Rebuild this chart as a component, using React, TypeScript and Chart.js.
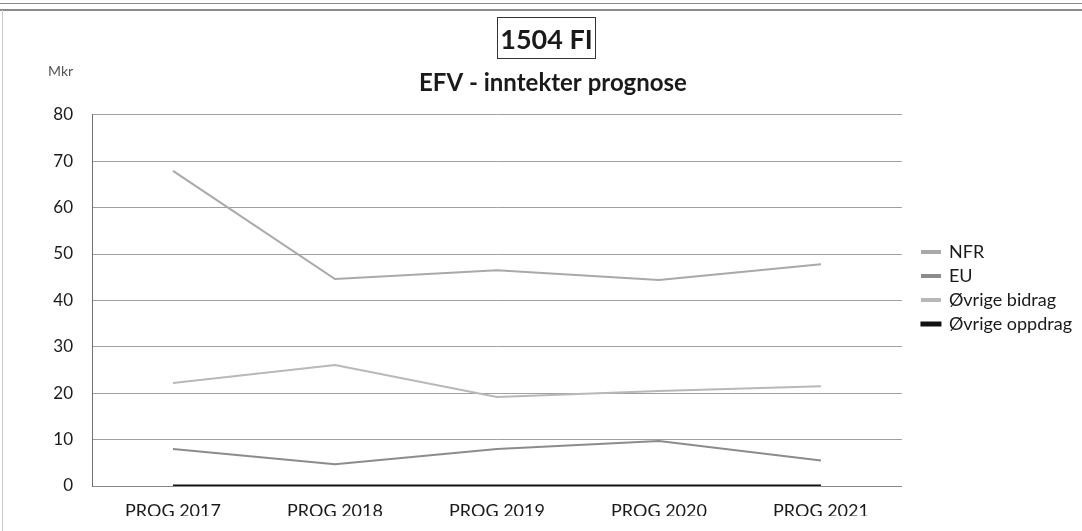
import React, { useEffect, useRef } from "react";
import { Chart, registerables } from "chart.js";

Chart.register(...registerables);

const categories = ["PROG 2017", "PROG 2018", "PROG 2019", "PROG 2020", "PROG 2021"];
const nfr = [67.9, 44.6, 46.5, 44.4, 47.8];
const eu = [8.0, 4.7, 8.0, 9.7, 5.5];
const ovrigeBidrag = [22.2, 26.1, 19.2, 20.5, 21.5];
const ovrigeOppdrag = [0, 0, 0, 0, 0];
const yTicks = { min: 0, max: 80, step: 10 };

const FONT = "Lato, 'Open Sans', sans-serif";

export default function App() {
  const ref = useRef<HTMLCanvasElement | null>(null);

  useEffect(() => {
    if (!ref.current) return;
    const chart = new Chart(ref.current, {
      type: "line",
      data: {
        labels: categories,
        datasets: [
          { label: "NFR", data: nfr, borderColor: "#a9a9a9", backgroundColor: "#a9a9a9", borderWidth: 2, pointRadius: 0, yAxisID: "y" },
          { label: "EU", data: eu, borderColor: "#8c8c8c", backgroundColor: "#8c8c8c", borderWidth: 2, pointRadius: 0, yAxisID: "y" },
          { label: "Øvrige bidrag", data: ovrigeBidrag, borderColor: "#b8b8b8", backgroundColor: "#b8b8b8", borderWidth: 2, pointRadius: 0, yAxisID: "y" },
          { label: "Øvrige oppdrag", data: ovrigeOppdrag, borderColor: "#111111", backgroundColor: "#111111", borderWidth: 3, pointRadius: 0, yAxisID: "y" },
        ],
      },
      options: {
        animation: false,
        responsive: false,
        maintainAspectRatio: false,
        layout: { padding: { left: 24, right: 0, top: 60, bottom: 15 } },
        plugins: {
          title: {
            display: true,
            text: "EFV - inntekter prognose",
            color: "#1a1a1a",
            font: { family: FONT, size: 24, weight: "bold" },
            padding: { top: 9, bottom: 17 },
          },
          legend: {
            position: "right",
            align: "center",
            labels: {
              boxWidth: 18,
              boxHeight: 2,
              padding: 6,
              color: "#1a1a1a",
              font: { family: FONT, size: 18 },
            },
          },
          tooltip: { enabled: false },
        },
        scales: {
          x: {
            offset: true,
            grid: { display: false, drawTicks: false, offset: true },
            border: { display: true, color: "#8a8a8a", width: 1 },
            ticks: { color: "#1a1a1a", padding: 14, font: { family: FONT, size: 18 } },
            afterFit: (s: any) => { s.height = 30; },
          },
          y: {
            position: "left",
            min: yTicks.min,
            max: yTicks.max,
            grid: { color: "#a0a0a0", lineWidth: 1, drawTicks: false },
            border: { display: true, color: "#6f6f6f", width: 1 },
            ticks: { stepSize: yTicks.step, color: "#1a1a1a", padding: 19, font: { family: FONT, size: 17 } },
            afterFit: (s: any) => { s.width = 68; },
          },
          pad: {
            type: "linear",
            position: "right",
            display: true,
            grid: { display: false, drawTicks: false },
            border: { display: false },
            ticks: { display: false },
            afterFit: (s: any) => { s.width = 14; },
          },
        },
      } as any,
    });
    return () => chart.destroy();
  }, []);

  return (
    <div style={{ position: "fixed", left: 0, top: 0, width: 1082, height: 531, background: "#fff", overflow: "hidden" }}>
      <div style={{ position: "absolute", left: 0, top: 3, width: 1082, height: 0, borderTop: "1px solid #8a8a8a" }} />
      <div style={{ position: "absolute", left: 0, top: 9, width: 1082, height: 0, borderTop: "2px solid #8a8a8a" }} />
      <div style={{ position: "absolute", left: 2, top: 10, width: 0, height: 521, borderLeft: "1px solid #c8c8c8" }} />
      <canvas ref={ref} width={1082} height={531} style={{ position: "absolute", left: 0, top: 0, width: 1082, height: 531 }} />
      <div style={{ position: "absolute", left: 497, top: 17, width: 99, height: 42, border: "1.5px solid #333", boxSizing: "border-box", display: "flex", alignItems: "center", justifyContent: "center", fontFamily: FONT, fontWeight: "bold", fontSize: 27, color: "#1a1a1a", lineHeight: 1 }}>
        1504 FI
      </div>
      <div style={{ position: "absolute", left: 48, top: 64, fontFamily: FONT, fontSize: 14, color: "#555", lineHeight: 1 }}>Mkr</div>
    </div>
  );
}
